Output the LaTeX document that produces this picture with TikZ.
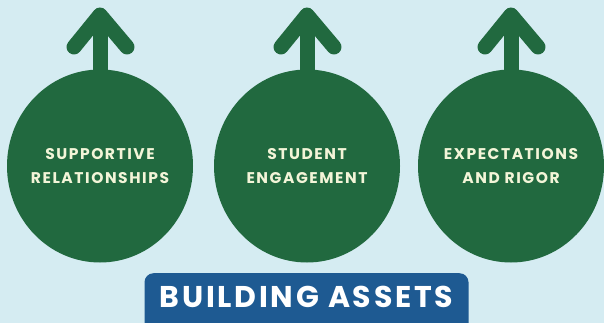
\documentclass[tikz,border=0pt]{standalone}
\usepackage{fontspec}
\setmainfont{Poppins}
\newfontfamily\circfont{Poppins}[LetterSpace=10]
\newfontfamily\banfont{Poppins}[LetterSpace=9]
\usetikzlibrary{calc,shapes.geometric}
\definecolor{bgc}{HTML}{D5ECF2}
\definecolor{grn}{HTML}{21693F}
\definecolor{blu}{HTML}{1E5A92}
\definecolor{txt}{HTML}{F3F5D8}
\tikzset{
  asset/.style={ellipse, fill=grn, minimum width=186pt, minimum height=193pt, inner sep=0pt},
  assettext/.style={text=txt, align=center, font=\circfont\fontsize{15.5}{24}\selectfont\bfseries},
  shaft/.style={draw=grn, line width=15pt},
  chevron/.style={draw=grn, line width=15pt, line cap=round, line join=round},
  banner/.style={fill=blu, rounded corners=9pt, minimum width=324pt, minimum height=60pt, inner sep=0pt, anchor=north},
}
\begin{document}
\begin{tikzpicture}[x=1pt,y=-1pt]
\fill[bgc] (0,0) rectangle (604,323);
\useasboundingbox (0,0) rectangle (604,323);
\begin{scope}
\clip (0,0) rectangle (604,323);
\node[asset] (c1) at (100,166) {};
\node[asset] (c2) at (307,166) {};
\node[asset] (c3) at (511,166) {};
\node[assettext] (l1) at (c1) {SUPPORTIVE\\RELATIONSHIPS};
\node[assettext] (l2) at (c2) {STUDENT\\ENGAGEMENT};
\node[assettext] (l3) at (c3) {EXPECTATIONS\\AND RIGOR};
\foreach \i/\x in {1/100,2/307,3/511}{
  \coordinate (t\i) at (\x,15);
  \draw[shaft] (c\i.north) ++(0,2) -- (t\i);
  \draw[chevron] ($(t\i)+(-26,32)$) -- (t\i) -- ($(t\i)+(27,32)$);
}
\node[banner] (b) at (306.5,273) {};
\node[text=white, font=\banfont\fontsize{30}{30}\selectfont\bfseries] (bt) at (306.5,297) {BUILDING ASSETS};
\end{scope}
\end{tikzpicture}
\end{document}
